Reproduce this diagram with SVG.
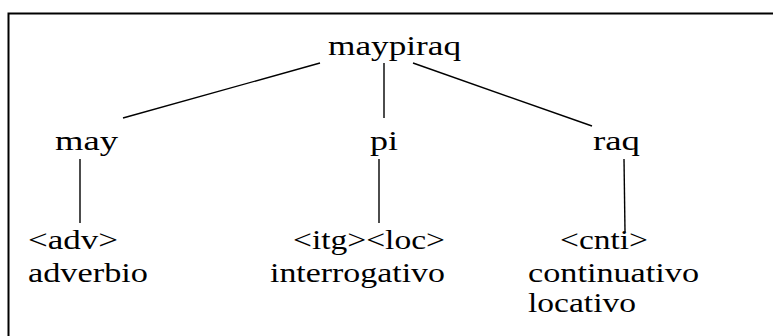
<svg xmlns="http://www.w3.org/2000/svg" width="773" height="336" viewBox="0 0 773 336">
<style>
.e{stroke:#000;stroke-width:1.4;fill:none}
</style>
<rect x="0" y="0" width="773" height="336" fill="#fff"/>
<path d="M8.5,336 V13.5 H773" stroke="#000" stroke-width="2" fill="none"/>
<g id="connectors">
<line class="e" x1="320" y1="63" x2="123" y2="118"/>
<line class="e" x1="384" y1="63" x2="384" y2="118"/>
<line class="e" x1="413" y1="63" x2="592" y2="126"/>
<line class="e" x1="80" y1="159" x2="80" y2="223"/>
<line class="e" x1="379" y1="159" x2="379" y2="223"/>
<line class="e" x1="624" y1="159" x2="625" y2="232"/>
</g>
<g font-family="Liberation Serif, Times New Roman, serif" font-size="28" fill="#000">
<g id="maypiraq"><text x="328" y="55" textLength="133" lengthAdjust="spacingAndGlyphs">maypiraq</text></g>
<g id="may"><text x="55" y="150" textLength="63" lengthAdjust="spacingAndGlyphs">may</text></g>
<g id="pi"><text x="370" y="150" textLength="28" lengthAdjust="spacingAndGlyphs">pi</text></g>
<g id="raq"><text x="593" y="150" textLength="47" lengthAdjust="spacingAndGlyphs">raq</text></g>
<g id="adv"><text x="28" y="249" textLength="90" lengthAdjust="spacingAndGlyphs">&lt;adv&gt;</text>
<text x="28" y="282" textLength="120" lengthAdjust="spacingAndGlyphs">adverbio</text></g>
<g id="itgloc"><text x="293" y="249" textLength="152" lengthAdjust="spacingAndGlyphs">&lt;itg&gt;&lt;loc&gt;</text>
<text x="270" y="282" textLength="175" lengthAdjust="spacingAndGlyphs">interrogativo</text></g>
<g id="cnti"><text x="560" y="249" textLength="88" lengthAdjust="spacingAndGlyphs">&lt;cnti&gt;</text>
<text x="528" y="282" textLength="171" lengthAdjust="spacingAndGlyphs">continuativo</text>
<text x="528" y="312" textLength="108" lengthAdjust="spacingAndGlyphs">locativo</text></g>
</g>
</svg>
